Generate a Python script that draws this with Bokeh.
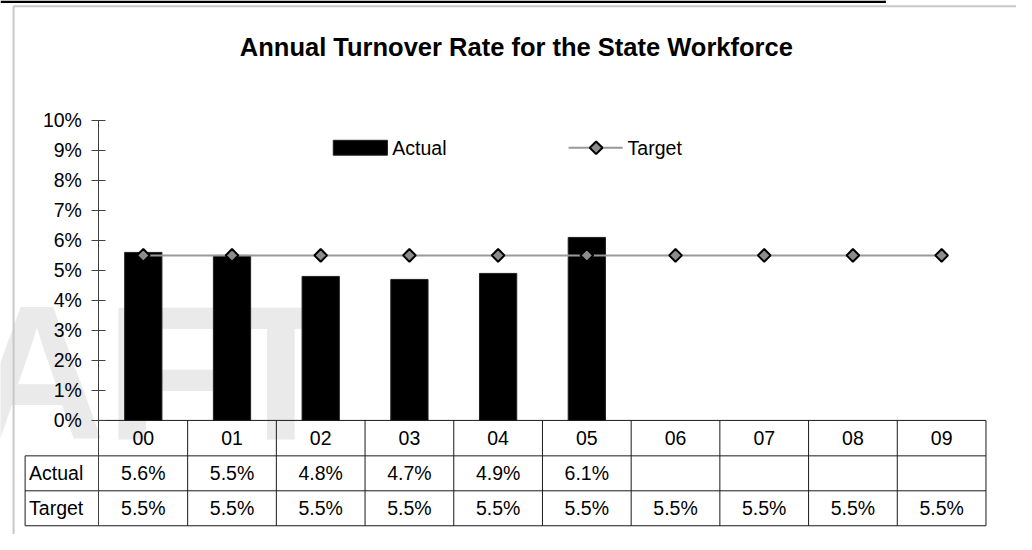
import math
from bokeh.plotting import figure
from bokeh.models import (Range1d, LinearAxis, FixedTicker, PrintfTickFormatter)
from bokeh.core.properties import value
from bokeh.embed import file_html
from bokeh.resources import INLINE

# ---- data -------------------------------------------------------------
categories = ["00", "01", "02", "03", "04", "05", "06", "07", "08", "09"]
actual = [5.6, 5.5, 4.8, 4.7, 4.9, 6.1]
target = [5.5, 5.5, 5.5, 5.5, 5.5, 5.5, 5.5, 5.5, 5.5, 5.5]
y_ticks = [0, 1, 2, 3, 4, 5, 6, 7, 8, 9, 10]
row_labels = ["Actual", "Target"]
title_text = "Annual Turnover Rate for the State Workforce"
watermark_text = "DRAFT"

# ---- layout: positions expressed in a 1032x550 design grid -------------
W, H = 1016, 534
DW, DH = 1032.0, 550.0
AX_X, COL_W = 100.0, 90.1     # design x of category boundary 0, width per category
ZERO_Y, PCT_H = 432.5, 30.9   # design y of 0 %, height of 1 %


def dx(px):
    return (px - AX_X) / COL_W


def dy(py):
    return (ZERO_Y - py) / PCT_H


FONT = value("Liberation Sans")
FS = "19.5px"

p = figure(width=W, height=H, output_backend="svg", toolbar_location=None,
           x_range=Range1d(dx(0), dx(DW)), y_range=Range1d(dy(DH), dy(0)),
           x_axis_type=None, y_axis_type=None, min_border=0,
           outline_line_color=None, background_fill_color="white",
           border_fill_color="white")

# watermark
p.text(x=[dx(344)], y=[dy(383)], text=[watermark_text], text_align="right",
       text_baseline="alphabetic", text_font=FONT, text_font_style="bold",
       text_font_size="191px", text_color="#eaeaea")

# page frame lines
p.segment(x0=[dx(0)], y0=[dy(1.3)], x1=[dx(899)], y1=[dy(1.3)],
          line_color="black", line_width=2.5)
p.segment(x0=[dx(898.5)], y0=[dy(0)], x1=[dx(898.5)], y1=[dy(2.5)],
          line_color="black", line_width=1.5)
p.segment(x0=[dx(13.3), dx(13.3)], y0=[dy(6), dy(6)],
          x1=[dx(13.3), dx(DW)], y1=[dy(DH), dy(6)],
          line_color="#c8c8c8", line_width=2)

# title
p.text(x=[dx(524)], y=[dy(47.5)], text=[title_text], text_align="center",
       text_baseline="middle", text_font=FONT, text_font_style="bold",
       text_font_size="25.5px", text_color="black")

# bars
centers_a = [i + 0.5 for i in range(len(actual))]
p.vbar(x=centers_a, top=actual, bottom=0, width=0.42,
       fill_color="black", line_color="#202020", line_width=1)

# target line + markers
centers_t = [i + 0.5 for i in range(len(target))]
p.line(x=centers_t, y=target, line_color="#999999", line_width=2)
p.scatter(x=centers_t, y=target, marker="square", angle=math.pi / 4,
          size=9, fill_color="#8c8c8c", line_color="black", line_width=2)

# legend (drawn in place)
leg_y = dy(151.7)
p.quad(left=[dx(338)], right=[dx(393)], top=[dy(144)], bottom=[dy(159.3)],
       fill_color="black", line_color="#202020")
p.text(x=[dx(398)], y=[leg_y], text=["Actual"], text_align="left",
       text_baseline="middle", text_font=FONT, text_font_size=FS,
       text_color="black")
p.segment(x0=[dx(577)], y0=[leg_y], x1=[dx(632)], y1=[leg_y],
          line_color="#999999", line_width=2)
p.scatter(x=[dx(605)], y=[leg_y], marker="square", angle=math.pi / 4,
          size=9, fill_color="#8c8c8c", line_color="black", line_width=2)
p.text(x=[dx(637)], y=[leg_y], text=["Target"], text_align="left",
       text_baseline="middle", text_font=FONT, text_font_size=FS,
       text_color="black")

# data table grid
n = len(categories)
row_px = [469, 505, 541]
tbl_left = dx(25)
seg_x0, seg_y0, seg_x1, seg_y1 = [0], [0], [n], [0]
for r in row_px:
    seg_x0.append(tbl_left); seg_y0.append(dy(r)); seg_x1.append(n); seg_y1.append(dy(r))
seg_x0.append(tbl_left); seg_y0.append(dy(row_px[0])); seg_x1.append(tbl_left); seg_y1.append(dy(row_px[2]))
for k in range(1, n + 1):
    seg_x0.append(k); seg_y0.append(0); seg_x1.append(k); seg_y1.append(dy(row_px[2]))
p.segment(x0=seg_x0, y0=seg_y0, x1=seg_x1, y1=seg_y1,
          line_color="#1a1a1a", line_width=1)

# table text
hdr_y = dy((433 + 469) / 2)
act_y = dy((469 + 505) / 2)
tgt_y = dy((505 + 541) / 2)
p.text(x=[i + 0.5 for i in range(n)], y=[hdr_y] * n, text=categories,
       text_align="center", text_baseline="middle", text_font=FONT,
       text_font_size=FS, text_color="black")
p.text(x=centers_a, y=[act_y] * len(actual),
       text=[f"{v:.1f}%" for v in actual], text_align="center",
       text_baseline="middle", text_font=FONT, text_font_size=FS,
       text_color="black")
p.text(x=centers_t, y=[tgt_y] * len(target),
       text=[f"{v:.1f}%" for v in target], text_align="center",
       text_baseline="middle", text_font=FONT, text_font_size=FS,
       text_color="black")
p.text(x=[dx(29), dx(29)], y=[act_y, tgt_y], text=row_labels,
       text_align="left", text_baseline="middle", text_font=FONT,
       text_font_size=FS, text_color="black")

# y axis drawn at the first category boundary
yaxis = LinearAxis(fixed_location=0, bounds=(dy(row_px[2]), 10),
                   ticker=FixedTicker(ticks=y_ticks),
                   formatter=PrintfTickFormatter(format="%d%%"),
                   major_tick_in=7, major_tick_out=7,
                   minor_tick_line_color=None,
                   axis_line_color="#404040", major_tick_line_color="#404040",
                   major_label_standoff=10,
                   major_label_text_font="Liberation Sans",
                   major_label_text_font_size=FS,
                   major_label_text_color="black")
p.add_layout(yaxis, "left")

open("out.html", "w").write(file_html(p, INLINE))
